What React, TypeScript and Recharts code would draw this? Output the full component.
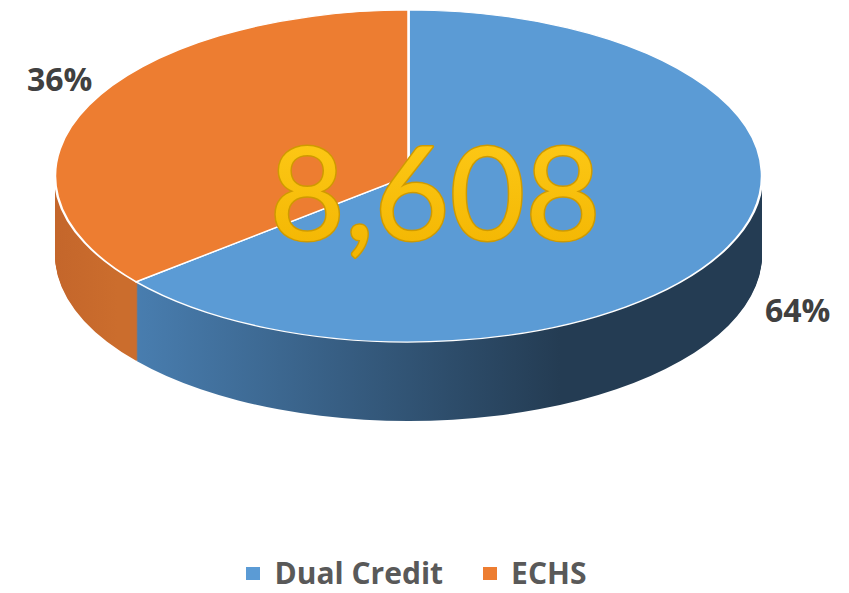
import React from "react";
import { PieChart, Pie, Cell } from "recharts";

// chart values
const categories = ["Dual Credit", "ECHS"];
const values = [64, 36];
const percentLabels = ["64%", "36%"];
const totalLabel = "8,608";

const TOP_COLORS = ["#5B9BD5", "#ED7D31"];
const SIDE_FILLS = ["url(#sideBlue)", "url(#sideOrange)"];

// fake 3D: a circle squashed vertically, with the rim built from stacked layers
const W = 849;
const RX = 353.5;
const RY = 166;
const S = RY / RX;
const CX = 408.5;
const CY = 176;
const DEPTH = 79;
const CHART_H = Math.ceil((CY + DEPTH + RY + 10) / S);

const data = categories.map((name, i) => ({ name, value: values[i] }));
const layers = Array.from({ length: DEPTH }, (_, i) => DEPTH - i);

export default function App() {
  return (
    <div style={{ position: "absolute", left: 0, top: 0, width: W, height: 593, background: "#fff", overflow: "hidden" }}>
      <div
        style={{
          position: "absolute",
          left: 0,
          top: 0,
          width: W,
          height: CHART_H,
          transform: `scaleY(${S})`,
          transformOrigin: "0 0",
        }}
      >
        <PieChart width={W} height={CHART_H} margin={{ top: 0, right: 0, bottom: 0, left: 0 }}>
          <defs>
            <linearGradient id="sideBlue" gradientUnits="userSpaceOnUse" x1={118} y1={0} x2={560} y2={0}>
              <stop offset="0%" stopColor="#4A80B3" />
              <stop offset="100%" stopColor="#243C53" />
            </linearGradient>
            <linearGradient id="sideOrange" gradientUnits="userSpaceOnUse" x1={55} y1={0} x2={118} y2={0}>
              <stop offset="0%" stopColor="#C4662B" />
              <stop offset="100%" stopColor="#CB6D2D" />
            </linearGradient>
          </defs>
          {layers.map((d) => (
            <Pie
              key={`side-${d}`}
              data={data}
              dataKey="value"
              nameKey="name"
              cx={CX}
              cy={(CY + d) / S}
              innerRadius={0}
              outerRadius={RX}
              startAngle={90}
              endAngle={-270}
              stroke="none"
              label={false}
              labelLine={false}
              isAnimationActive={false}
            >
              {data.map((_, i) => (
                <Cell key={i} fill={SIDE_FILLS[i]} />
              ))}
            </Pie>
          ))}
          <Pie
            data={data}
            dataKey="value"
            nameKey="name"
            cx={CX}
            cy={CY / S}
            innerRadius={0}
            outerRadius={RX}
            startAngle={90}
            endAngle={-270}
            stroke="#ffffff"
            strokeWidth={2.5}
            label={false}
            labelLine={false}
            isAnimationActive={false}
          >
            {data.map((_, i) => (
              <Cell key={i} fill={TOP_COLORS[i]} />
            ))}
          </Pie>
        </PieChart>
      </div>

      <svg width={W} height={593} style={{ position: "absolute", left: 0, top: 0 }}>
        <defs>
          <linearGradient id="gold" x1="0" y1="0" x2="0" y2="1">
            <stop offset="0%" stopColor="#FFCC1A" />
            <stop offset="100%" stopColor="#F2B400" />
          </linearGradient>
        </defs>
        <text
          x={435}
          y={240}
          textAnchor="middle"
          fontFamily="Lato, 'Open Sans', sans-serif"
          fontSize={130}
          fill="url(#gold)"
          stroke="#CF9A00"
          strokeWidth={3}
          paintOrder="stroke"
          strokeLinejoin="round"
        >
          {totalLabel}
        </text>
        <text x={27} y={91} fontFamily="'Open Sans', sans-serif" fontWeight={700} fontSize={32} fill="#404040">
          {percentLabels[1]}
        </text>
        <text x={765} y={322} fontFamily="'Open Sans', sans-serif" fontWeight={700} fontSize={32} fill="#404040">
          {percentLabels[0]}
        </text>
      </svg>

      <div
        style={{
          position: "absolute",
          left: 0,
          top: 558,
          width: W,
          boxSizing: "border-box",
          paddingRight: 16,
          display: "flex",
          justifyContent: "center",
          gap: 40,
          fontFamily: "'Open Sans', sans-serif",
          fontWeight: 700,
          fontSize: 30,
          lineHeight: "30px",
          color: "#595959",
        }}
      >
        {categories.map((c, i) => (
          <div key={c} style={{ display: "flex", alignItems: "center" }}>
            <span style={{ width: 14, height: 13, background: TOP_COLORS[i], marginRight: 14, display: "inline-block" }} />
            <span>{c}</span>
          </div>
        ))}
      </div>
    </div>
  );
}
